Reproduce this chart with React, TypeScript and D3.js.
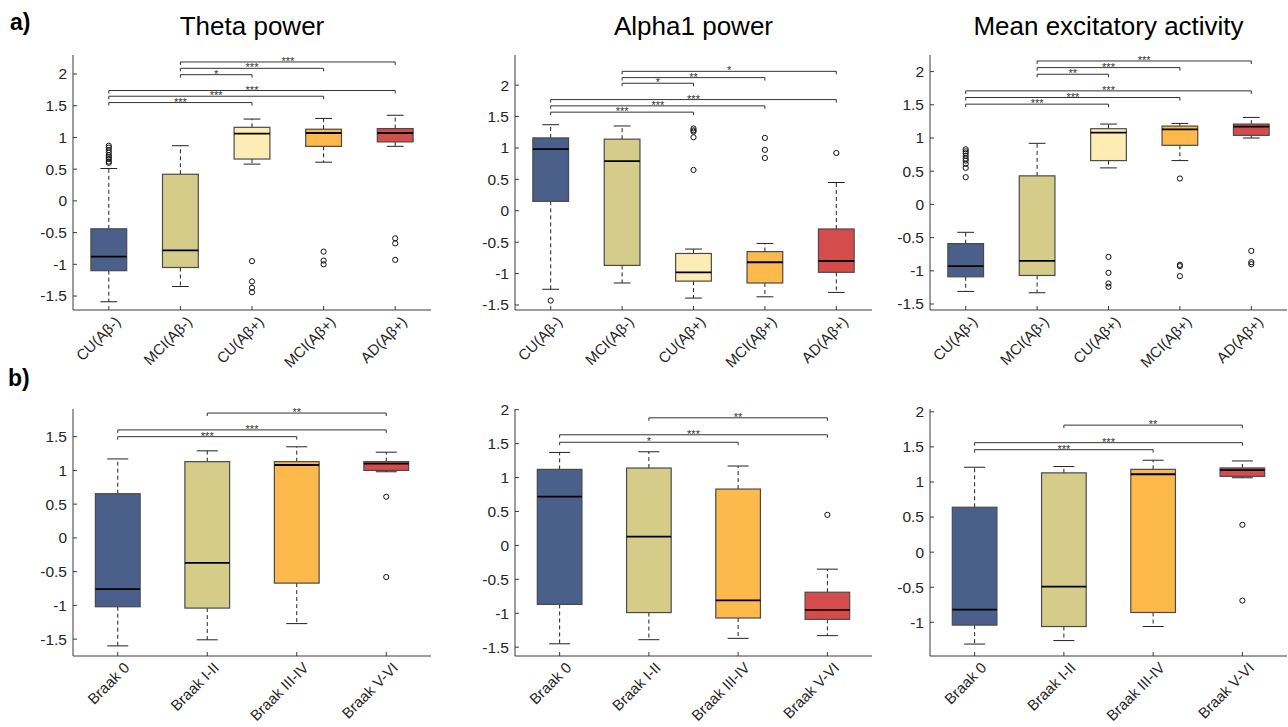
import React from "react";
import * as d3 from "d3";

// ---------- categories ----------
const groupsA = ["CU(Aβ-)", "MCI(Aβ-)", "CU(Aβ+)", "MCI(Aβ+)", "AD(Aβ+)"];
const groupsB = ["Braak 0", "Braak I-II", "Braak III-IV", "Braak V-VI"];
const titlesA = ["Theta power", "Alpha1 power", "Mean excitatory activity"];

// ---------- box stats: [lowWhisker, q1, median, q3, highWhisker] ----------
const thetaA = [
  [-1.59, -1.1, -0.88, -0.44, 0.51],
  [-1.35, -1.05, -0.78, 0.42, 0.87],
  [0.58, 0.66, 1.06, 1.16, 1.29],
  [0.61, 0.86, 1.07, 1.13, 1.3],
  [0.86, 0.93, 1.07, 1.14, 1.35],
];
const thetaAOut = [
  [0.87, 0.84, 0.8, 0.76, 0.72, 0.69, 0.66, 0.62, 0.6],
  [],
  [-0.95, -1.27, -1.37, -1.44],
  [-0.8, -0.94, -1.0],
  [-0.59, -0.67, -0.93],
];
const thetaASig = [
  [0, 2, 1.55, "***"], [0, 3, 1.65, "***"], [0, 4, 1.74, "***"],
  [1, 2, 1.99, "*"], [1, 3, 2.09, "***"], [1, 4, 2.19, "***"],
];

const alphaA = [
  [-1.25, 0.15, 0.98, 1.16, 1.37],
  [-1.15, -0.87, 0.79, 1.14, 1.35],
  [-1.39, -1.12, -0.98, -0.68, -0.61],
  [-1.37, -1.15, -0.82, -0.65, -0.52],
  [-1.3, -0.98, -0.8, -0.29, 0.45],
];
const alphaAOut = [
  [-1.43],
  [],
  [1.31, 1.28, 1.26, 1.17, 0.65],
  [1.16, 0.97, 0.84],
  [0.92],
];
const alphaASig = [
  [0, 2, 1.57, "***"], [0, 3, 1.67, "***"], [0, 4, 1.77, "***"],
  [1, 2, 2.03, "*"], [1, 3, 2.12, "**"], [1, 4, 2.22, "*"],
];

const excA = [
  [-1.31, -1.09, -0.93, -0.59, -0.42],
  [-1.33, -1.07, -0.85, 0.43, 0.92],
  [0.55, 0.66, 1.08, 1.14, 1.21],
  [0.66, 0.89, 1.13, 1.18, 1.22],
  [1.0, 1.04, 1.17, 1.21, 1.31],
];
const excAOut = [
  [0.83, 0.8, 0.77, 0.73, 0.69, 0.66, 0.61, 0.55, 0.41],
  [],
  [-0.79, -1.03, -1.19, -1.24],
  [0.39, -0.91, -0.93, -1.08],
  [-0.7, -0.87, -0.9],
];
const excASig = [
  [0, 2, 1.51, "***"], [0, 3, 1.61, "***"], [0, 4, 1.71, "***"],
  [1, 2, 1.96, "**"], [1, 3, 2.06, "***"], [1, 4, 2.16, "***"],
];

const thetaB = [
  [-1.6, -1.02, -0.76, 0.655, 1.17],
  [-1.51, -1.04, -0.37, 1.13, 1.29],
  [-1.27, -0.67, 1.08, 1.13, 1.35],
  [0.98, 1.0, 1.1, 1.13, 1.27],
];
const thetaBOut = [[], [], [], [0.61, -0.58]];
const thetaBSig = [[0, 2, 1.5, "***"], [0, 3, 1.6, "***"], [1, 3, 1.85, "**"]];

const alphaB = [
  [-1.45, -0.87, 0.72, 1.12, 1.37],
  [-1.39, -0.99, 0.13, 1.14, 1.38],
  [-1.37, -1.07, -0.81, 0.83, 1.17],
  [-1.33, -1.09, -0.95, -0.69, -0.35],
];
const alphaBOut = [[], [], [], [0.45]];
const alphaBSig = [[0, 2, 1.52, "*"], [0, 3, 1.63, "***"], [1, 3, 1.88, "**"]];

const excB = [
  [-1.31, -1.04, -0.82, 0.64, 1.21],
  [-1.26, -1.06, -0.49, 1.13, 1.22],
  [-1.06, -0.86, 1.11, 1.18, 1.31],
  [1.06, 1.08, 1.17, 1.2, 1.3],
];
const excBOut = [[], [], [], [0.39, -0.69]];
const excBSig = [[0, 2, 1.46, "***"], [0, 3, 1.56, "***"], [1, 3, 1.81, "**"]];

// ---------- tick values ----------
const ticksFull = [-1.5, -1, -0.5, 0, 0.5, 1, 1.5, 2];
const ticksB1 = [-1.5, -1, -0.5, 0, 0.5, 1, 1.5];
const ticksB3 = [-1, -0.5, 0, 0.5, 1, 1.5, 2];

// ---------- colours ----------
const colorsA = ["#4b5f8b", "#d5cc89", "#feecb5", "#fdb94b", "#d54c4d"];
const colorsB = ["#4b5f8b", "#d5cc89", "#fdb94b", "#d54c4d"];

const FONT = "'Liberation Sans', Arial, sans-serif";

type Panel = {
  title?: string;
  groups: string[];
  stats: number[][];
  out: number[][];
  sig: (number | string)[][];
  colors: string[];
  x0: number; x1: number; yTop: number; yBot: number;
  dom: [number, number];
  ticks: number[];
};

const cols = [
  [73, 431],
  [515, 872],
  [930, 1287],
];

const panels: Panel[] = [
  { title: titlesA[0], groups: groupsA, stats: thetaA, out: thetaAOut, sig: thetaASig, colors: colorsA, x0: cols[0][0], x1: cols[0][1], yTop: 55, yBot: 310, dom: [-1.72, 2.3], ticks: ticksFull },
  { title: titlesA[1], groups: groupsA, stats: alphaA, out: alphaAOut, sig: alphaASig, colors: colorsA, x0: cols[1][0], x1: cols[1][1], yTop: 55, yBot: 310, dom: [-1.58, 2.48], ticks: ticksFull },
  { title: titlesA[2], groups: groupsA, stats: excA, out: excAOut, sig: excASig, colors: colorsA, x0: cols[2][0], x1: cols[2][1], yTop: 55, yBot: 310, dom: [-1.59, 2.25], ticks: ticksFull },
  { groups: groupsB, stats: thetaB, out: thetaBOut, sig: thetaBSig, colors: colorsB, x0: cols[0][0], x1: cols[0][1], yTop: 409, yBot: 656, dom: [-1.75, 1.91], ticks: ticksB1 },
  { groups: groupsB, stats: alphaB, out: alphaBOut, sig: alphaBSig, colors: colorsB, x0: cols[1][0], x1: cols[1][1], yTop: 409, yBot: 656, dom: [-1.63, 2.01], ticks: ticksFull },
  { groups: groupsB, stats: excB, out: excBOut, sig: excBSig, colors: colorsB, x0: cols[2][0], x1: cols[2][1], yTop: 409, yBot: 656, dom: [-1.48, 2.04], ticks: ticksB3 },
];

const fmt = (v: number) => (v === 0 ? "0" : String(v));

function BoxPanel({ p }: { p: Panel }) {
  const n = p.groups.length;
  const x = d3.scaleLinear().domain([0.5, n + 0.5]).range([p.x0, p.x1]);
  const y = d3.scaleLinear().domain(p.dom).range([p.yBot, p.yTop]);
  const step = x(2) - x(1);
  const bw = step * 0.5;
  const cw = bw * 0.47;
  const axisColor = "#3a3a3a";
  return (
    <g>
      {p.title && (
        <text x={(p.x0 + p.x1) / 2} y={35} textAnchor="middle" fontSize={26} fontFamily={FONT} fill="#000">
          {p.title}
        </text>
      )}
      {/* boxes */}
      {p.stats.map((s, i) => {
        const cx = x(i + 1);
        const [lo, q1, med, q3, hi] = s;
        return (
          <g key={i}>
            <line x1={cx} x2={cx} y1={y(q3)} y2={y(hi)} stroke="#222" strokeWidth={1} strokeDasharray="4,3" />
            <line x1={cx} x2={cx} y1={y(q1)} y2={y(lo)} stroke="#222" strokeWidth={1} strokeDasharray="4,3" />
            <line x1={cx - cw / 2} x2={cx + cw / 2} y1={y(hi)} y2={y(hi)} stroke="#222" strokeWidth={1} />
            <line x1={cx - cw / 2} x2={cx + cw / 2} y1={y(lo)} y2={y(lo)} stroke="#222" strokeWidth={1} />
            <rect x={cx - bw / 2} y={y(q3)} width={bw} height={y(q1) - y(q3)} fill={p.colors[i]} stroke="#4a4a4a" strokeWidth={1.2} />
            <line x1={cx - bw / 2} x2={cx + bw / 2} y1={y(med)} y2={y(med)} stroke="#000" strokeWidth={1.8} />
            {p.out[i].map((o, k) => (
              <circle key={k} cx={cx} cy={y(o)} r={2.6} fill="none" stroke="#111" strokeWidth={1} />
            ))}
          </g>
        );
      })}
      {/* significance brackets */}
      {p.sig.map((s, k) => {
        const a = x((s[0] as number) + 1);
        const b = x((s[1] as number) + 1);
        const yy = y(s[2] as number);
        return (
          <g key={k}>
            <path d={`M${a},${yy + 3}V${yy}H${b}V${yy + 3}`} fill="none" stroke="#333" strokeWidth={1} />
            <text x={(a + b) / 2} y={yy + 3} textAnchor="middle" fontSize={11} fontFamily={FONT} fill="#333">
              {s[3]}
            </text>
          </g>
        );
      })}
      {/* axes */}
      <line x1={p.x0} x2={p.x0} y1={p.yTop} y2={p.yBot} stroke={axisColor} strokeWidth={1} />
      <line x1={p.x0} x2={p.x1} y1={p.yBot} y2={p.yBot} stroke={axisColor} strokeWidth={1} />
      {p.ticks.map((t) => (
        <g key={t}>
          <line x1={p.x0} x2={p.x0 + 4} y1={y(t)} y2={y(t)} stroke={axisColor} />
          <text x={p.x0 - 6} y={y(t)} dy="0.35em" textAnchor="end" fontSize={15.5} fontFamily={FONT} fill="#262626">
            {fmt(t)}
          </text>
        </g>
      ))}
      {p.groups.map((g, i) => {
        const cx = x(i + 1);
        const ax = cx + 9;
        const ay = p.yBot + 9;
        return (
          <g key={g}>
            <line x1={cx} x2={cx} y1={p.yBot} y2={p.yBot - 4} stroke={axisColor} />
            <text
              x={ax}
              y={ay}
              dy="0.35em"
              textAnchor="end"
              fontSize={15}
              fontFamily={FONT}
              fill="#262626"
              transform={`rotate(-45 ${ax} ${ay})`}
            >
              {g}
            </text>
          </g>
        );
      })}
    </g>
  );
}

export default function App() {
  return (
    <svg
      width={1288}
      height={727}
      style={{ position: "absolute", left: 0, top: 0, background: "#fff" }}
      fontFamily={FONT}
    >
      <rect width={1288} height={727} fill="#fff" />
      <text x={10} y={30} fontSize={23} fontWeight="bold" fontFamily={FONT}>a)</text>
      <text x={8} y={386} fontSize={23} fontWeight="bold" fontFamily={FONT}>b)</text>
      {panels.map((p, i) => (
        <BoxPanel key={i} p={p} />
      ))}
    </svg>
  );
}
